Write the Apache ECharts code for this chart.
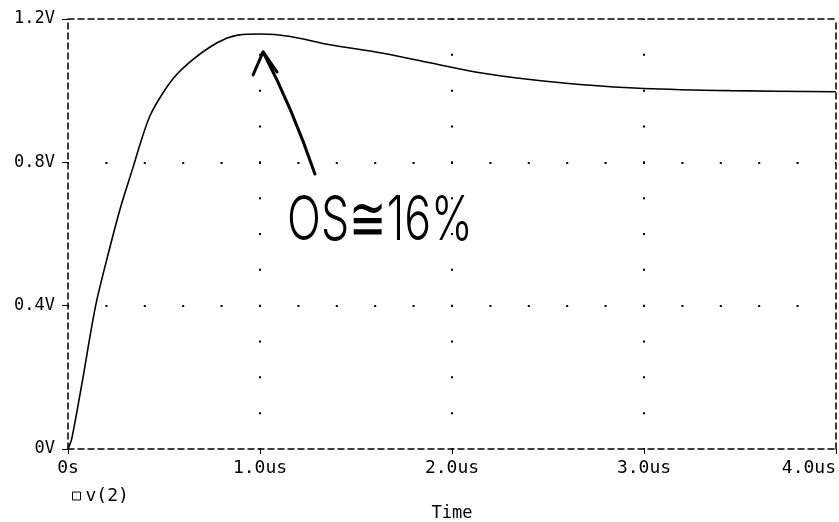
<!DOCTYPE html>
<html><head><meta charset="utf-8">
<script src="https://cdn.jsdelivr.net/npm/echarts@6/dist/echarts.min.js"></script>
<style>html,body{margin:0;padding:0;background:#fff}#c{width:839px;height:522px}</style>
</head><body><div id="c"></div><script>
// ---- data ----
const timeUs = [0, 0.02, 0.073, 0.144, 0.214, 0.275, 0.340, 0.375, 0.427, 0.496, 0.566, 0.653, 0.740, 0.826, 0.885, 1.0, 1.15, 1.365, 1.625, 1.885, 2.146, 2.406, 2.667, 3.0, 3.45, 4.0];
const v2     = [0, 0.03, 0.184, 0.40, 0.554, 0.677, 0.788, 0.850, 0.930, 0.995, 1.045, 1.088, 1.122, 1.146, 1.155, 1.158, 1.152, 1.128, 1.106, 1.078, 1.050, 1.031, 1.017, 1.006, 1.0, 0.997];
const xTickLabels = ['0s', '1.0us', '2.0us', '3.0us', '4.0us'];
const yTickLabels = ['0V', '0.4V', '0.8V', '1.2V'];
const seriesName = 'v(2)';
const xAxisTitle = 'Time';
// handwritten annotation (data coordinates)
const noteText = 'OS≅16%';
const noteAt = [1.625, 0.635];
const arrowTip = [1.016, 1.108];
const arrowTail = [1.286, 0.7675];
const arrowBend = [1.17, 0.95];
const arrowBarbL = [0.964, 1.044];
const arrowBarbR = [1.089, 1.052];

const FONT = '"DejaVu Sans Mono", "Liberation Mono", monospace';
const chart = echarts.init(document.getElementById('c'), null, {renderer: 'canvas'});
const border = {show: true, onZero: false, lineStyle: {color: '#000', width: 1.5, type: [6, 4]}};
const hidden = {show: false};

chart.setOption({
  animation: false,
  backgroundColor: '#fff',
  grid: {left: 68, right: 3, top: 19, bottom: 73, containLabel: false, outerBoundsMode: 'none'},
  legend: {
    data: [seriesName], left: 67, top: 482, icon: 'rect', itemWidth: 8, itemHeight: 8,
    itemStyle: {color: '#fff', borderColor: '#000', borderWidth: 1},
    textStyle: {fontFamily: FONT, fontSize: 18, color: '#000'}
  },
  xAxis: [{
    type: 'value', min: 0, max: 4, interval: 1, position: 'bottom',
    name: xAxisTitle, nameLocation: 'middle', nameGap: 56,
    nameTextStyle: {fontFamily: FONT, fontSize: 17, color: '#000'},
    axisLine: border,
    axisTick: {show: true, length: 5, lineStyle: {color: '#000', width: 1}},
    axisLabel: {margin: 10, fontFamily: FONT, fontSize: 18, color: '#000', alignMaxLabel: 'right',
      formatter: (v) => xTickLabels[Math.round(v)]},
    splitLine: {show: true, showMinLine: false, showMaxLine: false,
      lineStyle: {color: '#000', width: 2, type: [2, 33.83], dashOffset: 1}}
  }, {
    type: 'value', min: 0, max: 4, interval: 1, position: 'top',
    axisLine: border, axisTick: hidden, axisLabel: hidden, splitLine: hidden
  }],
  yAxis: [{
    type: 'value', min: 0, max: 1.2, interval: 0.4, position: 'left',
    axisLine: border,
    axisTick: {show: true, length: 6, lineStyle: {color: '#000', width: 1}},
    axisLabel: {margin: 13, fontFamily: FONT, fontSize: 17, color: '#000',
      formatter: (v) => yTickLabels[Math.round(v / 0.4)]},
    splitLine: {show: true, showMinLine: false, showMaxLine: false,
      lineStyle: {color: '#000', width: 2, type: [2, 36.4], dashOffset: 1}}
  }, {
    type: 'value', min: 0, max: 1.2, interval: 0.4, position: 'right',
    axisLine: border, axisTick: hidden, axisLabel: hidden, splitLine: hidden
  }],
  series: [{
    name: seriesName, type: 'line', xAxisIndex: 0, yAxisIndex: 0,
    data: timeUs.map((t, i) => [t, v2[i]]),
    smooth: 0.3, showSymbol: false, symbol: 'none',
    lineStyle: {color: '#000', width: 1.6},
    itemStyle: {color: '#000'}
  }]
});

const px = (p) => chart.convertToPixel({xAxisIndex: 0, yAxisIndex: 0}, p);
const tip = px(arrowTip), tail = px(arrowTail), bend = px(arrowBend);
const bl = px(arrowBarbL), br = px(arrowBarbR), note = px(noteAt);
chart.setOption({
  graphic: [
    {type: 'bezierCurve', shape: {x1: tail[0], y1: tail[1], x2: tip[0], y2: tip[1], cpx1: bend[0], cpy1: bend[1]},
      style: {stroke: '#000', lineWidth: 3, fill: null, lineCap: 'round'}, z: 100},
    {type: 'polyline', shape: {points: [bl, tip, br]},
      style: {stroke: '#000', lineWidth: 3, fill: null, lineCap: 'round', lineJoin: 'round'}, z: 100},
    {type: 'text', x: note[0], y: note[1], scaleX: 0.72, scaleY: 1,
      style: {text: noteText, font: '300 62px Inter, "DejaVu Sans", sans-serif', fill: '#000',
        align: 'center', verticalAlign: 'middle'}, z: 100}
  ]
});
</script></body></html>
